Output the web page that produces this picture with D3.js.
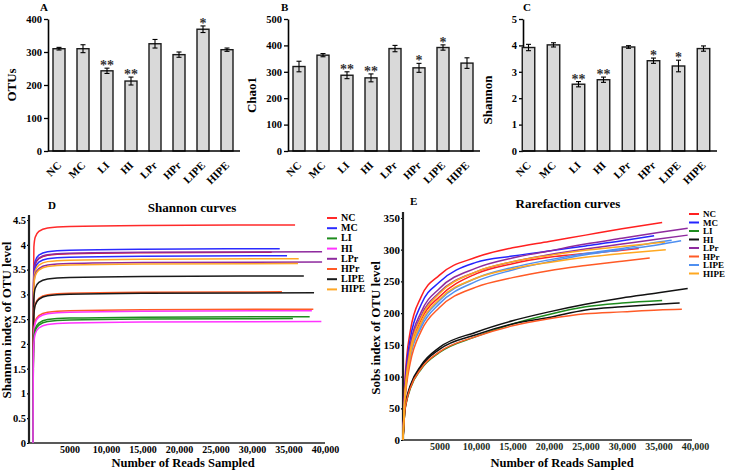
<!DOCTYPE html>
<html><head><meta charset="utf-8">
<script src="https://cdn.jsdelivr.net/npm/d3@7"></script>
<style>
body{margin:0;background:#fff;}
svg text{font-family:"Liberation Serif","Times New Roman",serif;font-weight:bold;}
</style></head><body>
<svg id="c" width="729" height="470"></svg>
<script>
// ---------- bar panel data ----------
const groups = ["NC","MC","LI","HI","LPr","HPr","LIPE","HIPE"];
const otuMean = [310,310,243,212,325,292,369,307];
const otuErr  = [4,12,8,12,13,8,10,5];
const otuSig  = ["","","**","**","","","*",""];
const chaoMean = [320,363,287,277,388,315,392,333];
const chaoErr  = [20,6,13,15,12,17,10,20];
const chaoSig  = ["","","**","**","","*","*",""];
const shanMean = [3.92,4.02,2.53,2.70,3.94,3.42,3.22,3.88];
const shanErr  = [0.12,0.08,0.10,0.10,0.05,0.10,0.22,0.10];
const shanSig  = ["","","**","**","","*","*",""];
const otuTicks  = [0,100,200,300,400];
const chaoTicks = [0,100,200,300,400,500];
const shanTicks = [0,1,2,3,4,5];

// ---------- Shannon curves (D) ----------
const dReads = [0,40,120,300,800,2000,5000,15000];
const dNames  = ["NC","MC","NC","LPr","MC","HIPE","LPr","HIPE","LIPE","HPr","LIPE","HPr","HI","LI","LI","HI"];
const dEnds   = [35900,33800,32700,39600,34800,36400,39600,36300,37100,34100,38500,38400,38200,37900,35600,39500];
const dVals = [
  [0,2.6,3.95,4.15,4.27,4.34,4.37,4.39,4.40],
  [0,2.3,3.47,3.67,3.79,3.86,3.89,3.91,3.92],
  [0,2.3,3.40,3.60,3.72,3.79,3.82,3.84,3.85],
  [0,2.3,3.41,3.61,3.73,3.80,3.83,3.85,3.86],
  [0,2.2,3.33,3.53,3.65,3.72,3.75,3.77,3.78],
  [0,2.2,3.27,3.47,3.59,3.66,3.69,3.71,3.72],
  [0,2.2,3.20,3.40,3.52,3.59,3.62,3.64,3.65],
  [0,2.2,3.17,3.37,3.49,3.56,3.59,3.61,3.62],
  [0,2.0,2.92,3.12,3.24,3.31,3.34,3.36,3.37],
  [0,1.8,2.60,2.80,2.92,2.99,3.02,3.04,3.05],
  [0,1.8,2.58,2.78,2.90,2.97,3.00,3.02,3.03],
  [0,1.6,2.25,2.45,2.57,2.64,2.67,2.69,2.70],
  [0,1.6,2.22,2.42,2.54,2.61,2.64,2.66,2.67],
  [0,1.5,2.10,2.30,2.42,2.49,2.52,2.54,2.55],
  [0,1.5,2.06,2.26,2.38,2.45,2.48,2.50,2.51],
  [0,1.5,2.00,2.20,2.32,2.39,2.42,2.44,2.45]
];
const dColor = {NC:"#ff2a2a",MC:"#2b2bff",LI:"#1e8c1e",HI:"#ff33ff",LPr:"#8e2a9e",HPr:"#ff5a26",LIPE:"#1a1a1a",HIPE:"#ffa726"};
const dTicksY = [0,0.5,1,1.5,2,2.5,3,3.5,4,4.5];

// ---------- Rarefaction curves (E) ----------
const eReads = [0,250,500,1000,2500,5000,10000,15000,20000,25000,30000];
const eNames = ["NC","MC","LPr","LPr","NC","LIPE","LIPE","HPr","HI","LI","HI","HPr","HIPE","HIPE"];
const eVals = [
  [0,90,130,172,226,260,288,303,313,323,333],
  [0,82,120,160,214,249,280,290,298,306,314],
  [0,75,110,150,202,239,271,287,298,309,318],
  [0,72,106,145,196,233,265,281,292,301,309],
  [0,70,102,140,190,226,262,278,288,294,299],
  [0,66,96,134,183,220,255,272,284,294,302],
  [0,64,93,130,178,215,250,268,281,292,300],
  [0,58,88,122,172,209,241,256,267,275,282],
  [0,48,66,86,118,146,170,188,202,214,224],
  [0,45,61,81,112,138,163,183,198,210,216],
  [0,46,63,84,116,143,166,183,193,205,210],
  [0,45,62,82,113,139,163,180,191,199,202],
  [0,70,103,142,193,231,265,281,291,299,305],
  [0,66,97,135,185,222,255,270,280,288,294]
];
const eTails = [
  [[35500,343]],
  [[34400,322]],
  [[35000,327],[39000,334]],
  [[35000,317],[39000,323]],
  [[32300,302]],
  [[35000,312],[36800,315]],
  [[35000,308],[38100,314]],
  [[33800,287]],
  [[35000,232],[39000,239]],
  [[35500,220]],
  [[35000,214],[37900,216]],
  [[35000,205],[38200,206]],
  [[35900,312]],
  [[36000,300]]
];
const eColor = {NC:"#ff2020",MC:"#2424ff",LI:"#1e8c1e",HI:"#111111",LPr:"#8e2a9e",HPr:"#ff5a26",LIPE:"#4f8ff0",HIPE:"#ffa820"};
const eTicksY = [0,50,100,150,200,250,300,350];
const readTicks = [5000,10000,15000,20000,25000,30000,35000,40000];

const svg = d3.select("#c");

function barPanel(o){
  const g = svg.append("g");
  const x = d3.scaleBand().domain(groups).range(o.band).paddingInner(0.5).paddingOuter(0.25);
  const y = d3.scaleLinear().domain([0,o.max]).range([151,19]);
  const ax = g.append("g").attr("transform",`translate(${o.axisX},0)`)
    .call(d3.axisLeft(y).tickValues(o.ticks).tickSize(4).tickSizeOuter(0).tickPadding(2).tickFormat(d3.format("~g")));
  ax.select(".domain").attr("stroke","#000").attr("stroke-width",1.6);
  ax.selectAll(".tick line").attr("stroke","#000").attr("stroke-width",1.3);
  ax.selectAll("text").attr("font-size",10.5).attr("fill","#000");
  g.selectAll("rect.bar").data(groups).join("rect")
    .attr("x",d=>x(d)).attr("width",x.bandwidth())
    .attr("y",(d,i)=>y(o.mean[i])).attr("height",(d,i)=>y(0)-y(o.mean[i]))
    .attr("fill","#d9d9d9").attr("stroke","#1a1a1a").attr("stroke-width",1.4);
  groups.forEach((d,i)=>{
    const cx = x(d)+x.bandwidth()/2;
    const t = y(o.mean[i]+o.err[i]), b = y(o.mean[i]-o.err[i]);
    g.append("line").attr("x1",cx).attr("x2",cx).attr("y1",t).attr("y2",b).attr("stroke","#000").attr("stroke-width",1.1);
    g.append("line").attr("x1",cx-2.5).attr("x2",cx+2.5).attr("y1",t).attr("y2",t).attr("stroke","#000").attr("stroke-width",1.1);
    g.append("line").attr("x1",cx-2.5).attr("x2",cx+2.5).attr("y1",b).attr("y2",b).attr("stroke","#000").attr("stroke-width",1.1);
    if(o.sig[i]) g.append("text").attr("x",cx).attr("y",t+2).attr("text-anchor","middle")
      .attr("font-size",14).attr("fill","#333").text(o.sig[i]);
    g.append("text").attr("transform",`translate(${cx+3},166) rotate(-45)`).attr("text-anchor","end")
      .attr("font-size",11).text(d);
  });
  g.append("line").attr("x1",o.axisX).attr("x2",o.axisEnd).attr("y1",y(0)).attr("y2",y(0)).attr("stroke","#000").attr("stroke-width",1.6);
  g.append("text").attr("transform",`translate(${o.tx},${o.ty}) rotate(-90)`).attr("text-anchor","middle")
    .attr("font-size",13).text(o.title);
  g.append("text").attr("x",o.lx).attr("y",11).attr("font-size",11).text(o.letter);
}

barPanel({band:[47,239],axisX:48,axisEnd:240,max:400,ticks:otuTicks,mean:otuMean,err:otuErr,sig:otuSig,title:"OTUs",tx:16,ty:85,letter:"A",lx:40});
barPanel({band:[287,479],axisX:288,axisEnd:480,max:500,ticks:chaoTicks,mean:chaoMean,err:chaoErr,sig:chaoSig,title:"Chao1",tx:256,ty:95,letter:"B",lx:281});
barPanel({band:[516,716],axisX:523,axisEnd:717,max:5,ticks:shanTicks,mean:shanMean,err:shanErr,sig:shanSig,title:"Shannon",tx:492,ty:100,letter:"C",lx:523});

function linePanel(o){
  const g = svg.append("g");
  const x = d3.scaleLinear().domain([0,40000]).range(o.xr);
  const y = d3.scaleLinear().domain([0,o.ymax]).range(o.yr);
  const ay = g.append("g").attr("transform",`translate(${o.axisX},0)`)
    .call(d3.axisLeft(y).tickValues(o.yticks).tickSize(2).tickSizeOuter(0).tickPadding(1).tickFormat(d3.format("~g")));
  ay.select(".domain").remove();
  ay.selectAll(".tick line").attr("stroke","#000").attr("stroke-width",1.2);
  ay.selectAll("text").attr("font-size",o.yfs).attr("fill","#000");
  g.append("line").attr("x1",o.axisX).attr("x2",o.axisX).attr("y1",o.axisY).attr("y2",o.yTopLine).attr("stroke","#222").attr("stroke-width",2.2);
  g.append("line").attr("x1",o.axisX-1).attr("x2",o.xEnd).attr("y1",o.axisY).attr("y2",o.axisY).attr("stroke","#222").attr("stroke-width",1.4);
  const ax = g.append("g").attr("transform",`translate(0,${o.axisY})`)
    .call(d3.axisBottom(x).tickValues(readTicks).tickSize(0).tickPadding(3)
      .tickFormat(d=>d===5000?"5000":d3.format(",")(d)));
  ax.select(".domain").remove();
  ax.selectAll("text").attr("font-size",10).attr("fill",o.xTickColor);
  const line = d3.line().x(d=>x(d[0])).y(d=>y(d[1])).curve(d3.curveMonotoneX);
  o.curves.forEach(c=>{
    g.append("path").attr("d",line(c.pts)).attr("fill","none").attr("stroke",c.color).attr("stroke-width",1.5);
  });
  groups.forEach((k,i)=>{
    const ly = o.legY + i*o.legStep;
    g.append("line").attr("x1",o.legX).attr("x2",o.legX+10).attr("y1",ly).attr("y2",ly).attr("stroke",o.colors[k]).attr("stroke-width",2);
    g.append("text").attr("x",o.legX+14).attr("y",ly+3).attr("font-size",o.legFs).attr("font-weight","normal").text(k);
  });
  g.append("text").attr("x",o.titleX).attr("y",o.titleY).attr("text-anchor","middle").attr("font-size",13).text(o.title);
  g.append("text").attr("x",o.letterX).attr("y",o.titleY-3).attr("font-size",11).text(o.letter);
  g.append("text").attr("x",o.xtX).attr("y",467).attr("text-anchor","middle").attr("font-size",12.5).text("Number of Reads Sampled");
  g.append("text").attr("transform",`translate(${o.ytX},${o.ytY}) rotate(-90)`).attr("text-anchor","middle").attr("font-size",13).text(o.ytitle);
}

const dCurves = dNames.map((n,i)=>({color: i===2 ? "#d8102c" : dColor[n],
  pts: dReads.map((r,j)=>[r,dVals[i][j]]).concat([[dEnds[i],dVals[i][8]]])}));
linePanel({xr:[33,325],yr:[443,220],ymax:4.5,axisX:29,axisY:443,yTopLine:215,xEnd:325,yticks:dTicksY,yfs:10.5,
  xTickColor:"#000",curves:dCurves,colors:dColor,legX:327,legY:218,legStep:10.2,legFs:10,
  title:"Shannon curves",titleX:192,titleY:212,letter:"D",letterX:48,xtX:183,ytitle:"Shannon index of OTU level",ytX:11,ytY:320});

const eCurves = eNames.map((n,i)=>({color:eColor[n],
  pts: eReads.map((r,j)=>[r,eVals[i][j]]).concat(eTails[i])}));
linePanel({xr:[403,695],yr:[440,218],ymax:350,axisX:403,axisY:440,yTopLine:212,xEnd:692,yticks:eTicksY,yfs:11,
  xTickColor:"#1c2e1c",curves:eCurves,colors:eColor,legX:689,legY:214,legStep:8.5,legFs:9,
  title:"Rarefaction curves",titleX:568,titleY:208,letter:"E",letterX:410,xtX:562,ytitle:"Sobs index of OTU level",ytX:380,ytY:328});
</script>
</body></html>
